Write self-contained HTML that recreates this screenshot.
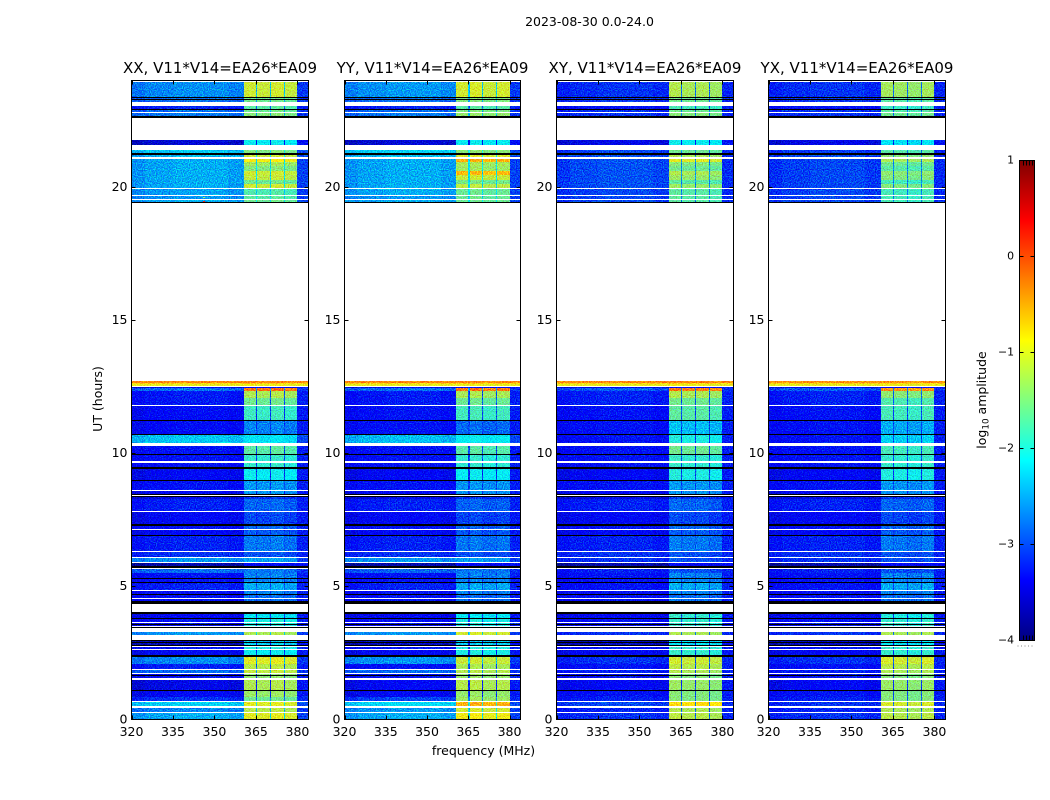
<!DOCTYPE html>
<html>
<head>
<meta charset="utf-8">
<title>2023-08-30 0.0-24.0</title>
<style>
html,body{margin:0;padding:0;background:#fff;}
svg{display:block;}
text{font-family:"DejaVu Sans","Liberation Sans",sans-serif;fill:#000;}
</style>
</head>
<body>
<svg id="chart" xmlns="http://www.w3.org/2000/svg" width="1050" height="800" viewBox="0 0 1050 800">
  <defs>
    <filter id="speckle" x="0" y="0" width="1" height="1" color-interpolation-filters="sRGB">
      <feTurbulence type="fractalNoise" baseFrequency="0.85" numOctaves="1" seed="4" result="n"/>
      <feColorMatrix in="n" type="matrix" values="0.4 0 0 0 0.3  0 3 0 0 -1.1  0 0 2 0 -0.5  0 0 0 0 1" result="m"/>
      <feComposite in="SourceGraphic" in2="m" operator="arithmetic" k1="0" k2="1" k3="0.5" k4="-0.25" result="c"/>
      <feComposite in="c" in2="SourceAlpha" operator="in"/>
    </filter>
    <linearGradient id="jet-gradient" x1="0" y1="1" x2="0" y2="0"></linearGradient>
  </defs>
  <text x="589.5" y="26" text-anchor="middle" font-size="12.5">2023-08-30 0.0-24.0</text>
  <text x="483.5" y="755" text-anchor="middle" font-size="12.5">frequency (MHz)</text>
  <text transform="translate(102,399) rotate(-90)" text-anchor="middle" font-size="12.5">UT (hours)</text>
  <text transform="translate(986,400) rotate(-90)" text-anchor="middle" font-size="12.5">log<tspan font-size="8.8" dy="2.5">10</tspan><tspan dy="-2.5"> amplitude</tspan></text>
</svg>
<script>
// Axis data
var panelTitles = ['XX, V11*V14=EA26*EA09', 'YY, V11*V14=EA26*EA09', 'XY, V11*V14=EA26*EA09', 'YX, V11*V14=EA26*EA09'];
var xTickLabels = [320, 335, 350, 365, 380];
var yTickLabels = [0, 5, 10, 15, 20];
var colorbarTicks = [-4, -3, -2, -1, 0, 1];

// Frequency channels (MHz) and the time rows (UT hours at the start of each row)
var channelEdges = [320, 325, 335, 345, 355, 360.5, 365, 365.5, 370, 370.5, 375, 375.5, 380, 384];
var lowChannelTrim = [-0.21, -0.12, -0.07, -0.07, -0.15];
var rowStartHours = [0, 0.26, 0.47, 0.66, 0.85, 1.09, 1.52, 1.74, 1.89, 2.10, 2.39, 2.62, 2.74, 3.17, 3.50, 3.83,
  4.44, 4.58, 4.71, 4.88, 5.18, 5.31, 5.50, 5.70, 5.93, 6.11, 6.34, 6.92, 7.16, 7.35, 7.84, 8.30, 8.46, 8.63,
  9.00, 9.47, 9.69, 9.99, 10.39, 10.74, 11.25, 11.81, 12.07, 12.34, 12.45, 12.53, 12.60, 12.65,
  19.39, 19.54, 19.69, 19.95, 20.13, 20.25, 20.44, 20.60, 20.78, 20.93, 21.11, 21.26, 21.56, 22.59, 22.83, 22.93, 23.21, 23.38];

// log10 amplitude per row: out-of-band level and in-band level for each polarisation
var xxLow = [-2.4,-2.6,-2.2,-3.0,-3.3,-3.4,-3.2,-2.7,-3.1,-2.55,-3.3,-3.2,-3.6,-2.5,-3.2,-3.3,
  -3.2,-3.2,-3.2,-3.1,-3.2,-3.2,-2.7,-3.7,-2.5,-3.0,-3.1,-3.3,-3.2,-3.3,-3.1,-3.4,-3.3,-3.2,
  -3.3,-3.2,-3.2,-3.2,-2.25,-3.25,-3.25,-3.15,-3.15,-2.7,-3.4,-1.0,-0.75,-0.35,
  -2.4,-2.5,-2.45,-2.4,-2.4,-2.4,-2.4,-2.4,-2.4,-2.4,-2.35,-2.25,-3.5,-2.65,-2.7,-3.1,-2.7,-2.55];
var xxBand = [-1.05,-1.25,-1.05,-1.6,-1.4,-1.3,-1.45,-1.2,-1.25,-1.05,-2.1,-2.0,-2.3,-1.3,-2.0,-2.2,
  -2.8,-2.8,-2.7,-2.5,-2.7,-2.7,-2.75,-3.4,-2.55,-2.95,-2.75,-2.9,-2.85,-3.0,-2.85,-3.1,-2.6,-2.6,
  -2.1,-1.9,-1.9,-1.7,-2.2,-2.7,-1.85,-1.6,-1.3,-0.25,-3.4,-1.0,-0.75,-0.35,
  -1.6,-1.7,-1.75,-1.15,-1.6,-1.2,-1.15,-1.5,-1.35,-0.95,-1.15,-1.5,-2.1,-1.5,-1.6,-1.7,-1.6,-1.15];
var yyLow = [-2.4,-2.5,-2.15,-2.9,-3.3,-3.3,-3.2,-2.7,-3.2,-2.5,-3.3,-3.2,-3.6,-2.5,-3.2,-3.3,
  -3.2,-3.2,-3.2,-3.1,-3.2,-3.2,-2.75,-3.7,-2.5,-3.0,-3.1,-3.3,-3.2,-3.3,-3.1,-3.4,-3.3,-3.2,
  -3.3,-3.2,-3.2,-3.2,-2.3,-3.2,-3.2,-3.15,-3.15,-2.7,-3.4,-1.0,-0.75,-0.35,
  -2.4,-2.5,-2.4,-2.4,-2.4,-2.4,-2.4,-2.4,-2.4,-2.4,-2.3,-2.2,-3.5,-2.65,-2.7,-3.1,-2.7,-2.5];
var yyBand = [-0.95,-1.1,-0.55,-1.35,-1.4,-1.25,-1.4,-1.25,-1.3,-1.15,-2.0,-2.0,-2.3,-1.1,-2.0,-2.15,
  -2.8,-2.8,-2.7,-2.5,-2.7,-2.7,-2.75,-3.4,-2.55,-2.95,-2.75,-2.9,-2.85,-3.0,-2.85,-3.1,-2.6,-2.6,
  -2.1,-1.9,-1.9,-1.7,-2.1,-2.8,-1.8,-1.6,-1.3,-0.25,-3.4,-1.0,-0.75,-0.35,
  -1.6,-1.6,-1.6,-1.2,-1.55,-1.15,-0.6,-1.35,-1.3,-0.55,-1.05,-1.45,-2.1,-1.4,-1.5,-1.7,-1.5,-1.1];
var xyLow = [-3.0,-3.1,-2.9,-3.1,-3.2,-3.3,-3.2,-3.1,-3.2,-3.0,-3.3,-3.2,-3.6,-3.0,-3.2,-3.3,
  -3.2,-3.2,-3.2,-3.2,-3.2,-3.2,-3.1,-3.7,-3.0,-3.0,-3.1,-3.3,-3.2,-3.3,-3.1,-3.4,-3.3,-3.2,
  -3.3,-3.2,-3.2,-3.2,-3.2,-3.2,-3.2,-3.1,-3.1,-2.8,-3.4,-1.0,-0.75,-0.35,
  -2.9,-2.9,-2.9,-2.85,-2.85,-2.85,-2.85,-2.85,-2.85,-2.85,-2.85,-2.9,-3.4,-3.0,-3.0,-3.2,-3.0,-3.0];
var xyBand = [-1.25,-1.3,-0.8,-1.5,-1.5,-1.4,-1.5,-1.3,-1.25,-1.15,-1.9,-1.9,-2.2,-1.3,-1.9,-1.9,
  -2.8,-2.8,-2.7,-2.5,-2.7,-2.7,-2.95,-3.4,-2.95,-2.95,-2.75,-2.9,-2.85,-3.0,-2.85,-3.1,-2.6,-2.6,
  -2.0,-1.9,-1.9,-1.6,-2.0,-2.4,-1.7,-1.6,-1.3,-0.3,-3.4,-1.0,-0.75,-0.35,
  -1.7,-1.7,-1.7,-1.4,-1.7,-1.4,-1.3,-1.6,-1.5,-1.05,-1.3,-1.6,-2.1,-1.5,-1.6,-1.8,-1.6,-1.3];
var yxLow = [-3.0,-3.1,-3.0,-3.1,-3.2,-3.3,-3.2,-3.1,-3.2,-3.0,-3.3,-3.2,-3.6,-3.0,-3.2,-3.3,
  -3.2,-3.2,-3.2,-3.2,-3.2,-3.2,-3.1,-3.7,-3.0,-3.0,-3.1,-3.3,-3.2,-3.3,-3.1,-3.4,-3.3,-3.2,
  -3.3,-3.2,-3.2,-3.2,-3.2,-3.2,-3.2,-3.1,-3.1,-2.8,-3.4,-1.0,-0.75,-0.4,
  -2.9,-2.9,-2.9,-2.9,-2.9,-2.9,-2.9,-2.9,-2.9,-2.9,-2.9,-2.95,-3.4,-3.0,-3.0,-3.2,-3.0,-3.0];
var yxBand = [-1.25,-1.3,-1.1,-1.5,-1.5,-1.4,-1.5,-1.3,-1.25,-1.1,-1.9,-1.9,-2.2,-1.3,-1.9,-2.0,
  -2.8,-2.8,-2.7,-2.5,-2.7,-2.7,-2.95,-3.4,-2.95,-2.95,-2.75,-2.9,-2.85,-3.0,-2.85,-3.1,-2.6,-2.6,
  -2.0,-1.9,-1.9,-1.8,-2.3,-2.5,-1.8,-1.75,-1.45,-0.4,-3.4,-1.0,-0.75,-0.4,
  -1.8,-1.8,-1.8,-1.5,-1.8,-1.5,-1.45,-1.7,-1.6,-1.3,-1.45,-1.7,-2.2,-1.6,-1.7,-1.85,-1.7,-1.35];

// Per-sub-band level trim for each polarisation
var xxBandTrim = [0.03, 0, 0.05, -0.03];
var yyBandTrim = [0, 0.03, -0.05, 0];
var xyBandTrim = [0.05, 0, 0.02, -0.05];
var yxBandTrim = [0.03, 0, -0.05, 0.03];

// Flagged time ranges (UT hours): no data (white) and zero amplitude (black)
var whiteGaps = [[23.93,24],[23.06,23.21],[22.79,22.83],[21.75,22.59],[21.38,21.56],[21.07,21.11],[19.91,19.95],[19.65,19.69],[19.50,19.54],[12.71,19.39],[12.49,12.53],[11.77,11.81],[10.26,10.39],[9.64,9.71],[8.59,8.63],[8.38,8.42],[7.80,7.84],[7.12,7.16],[6.30,6.34],[6.07,6.11],[5.89,5.93],[5.66,5.70],[4.84,4.88],[4.54,4.58],[4.03,4.35],[3.62,3.68],[3.49,3.53],[3.30,3.45],[3.00,3.17],[2.72,2.76],[2.60,2.64],[1.87,1.91],[1.72,1.76],[1.50,1.54],[0.64,0.68],[0.45,0.49],[0.24,0.28]];
var blackGaps = [[23.34,23.38],[23.25,23.29],[22.89,22.93],[22.59,22.65],[21.22,21.26],[19.39,19.43],[11.21,11.25],[10.70,10.74],[9.94,9.99],[9.42,9.47],[8.95,9.0],[8.42,8.46],[8.34,8.38],[7.28,7.35],[6.88,6.92],[5.70,5.77],[5.27,5.31],[5.14,5.18],[4.67,4.71],[4.35,4.44],[3.98,4.03],[3.79,3.83],[3.54,3.58],[3.45,3.49],[2.96,3.0],[2.87,2.91],[2.78,2.81],[2.36,2.42],[1.63,1.67],[1.07,1.11]];

// Isolated bright samples: panel index, frequency (MHz), hour, log10 amplitude
var spikePanel = [0, 0, 3];
var spikeFreq = [346, 346, 347];
var spikeHour = [19.47, 19.62, 19.45];
var spikeLevel = [0.2, -1.4, -1.2];

var panelLows = [xxLow, yyLow, xyLow, yxLow];
var panelBands = [xxBand, yyBand, xyBand, yxBand];
var panelTrims = [xxBandTrim, yyBandTrim, xyBandTrim, yxBandTrim];

var NS = 'http://www.w3.org/2000/svg';
var svg = document.getElementById('chart');
var panelLeft = [131.5, 344.5, 556.5, 768.5];
var panelWidth = [177, 176, 177, 177];
var plotTop = 80.5, plotBottom = 719.5;
var freqMin = 320, freqMax = 384, hourMax = 24;
var cbLeft = 1019.5, cbRight = 1034.5, cbTop = 160.5, cbBottom = 640.5;

function make(tag, attrs, parent) {
  var e = document.createElementNS(NS, tag);
  for (var k in attrs) e.setAttribute(k, attrs[k]);
  (parent || svg).appendChild(e);
  return e;
}
function clip01(v) { return Math.max(0, Math.min(1, v)); }
function jet(level) {
  var t = clip01((level + 4) / 5);
  var r = clip01(1.5 - Math.abs(4 * t - 3));
  var g = clip01(1.5 - Math.abs(4 * t - 2));
  var b = clip01(1.5 - Math.abs(4 * t - 1));
  return 'rgb(' + Math.round(r * 255) + ',' + Math.round(g * 255) + ',' + Math.round(b * 255) + ')';
}
function yScale(h) { return plotBottom - (h / hourMax) * (plotBottom - plotTop); }
function xScaleFor(p) {
  return function (f) { return panelLeft[p] + (f - freqMin) / (freqMax - freqMin) * panelWidth[p]; };
}
function channelLevel(c, low, band, trim) {
  if (c < 5) return low > -1.8 ? low : low + lowChannelTrim[c];
  if (c === 12) return low > -1.8 ? low : -3.2 + 0.25 * (low + 3.15);
  if (c % 2 === 1) return band + trim[(c - 5) / 2];
  return Math.min(low + 0.2, band);
}

panelTitles.forEach(function (title, p) {
  var x = xScaleFor(p);
  var left = panelLeft[p], right = left + panelWidth[p];
  var g = make('g', {});
  
  

  var cells = make('g', { filter: 'url(#speckle)', 'shape-rendering': 'crispEdges' }, g);
  
  
  rowStartHours.forEach(function (start, r) {
    var end = r + 1 < rowStartHours.length ? rowStartHours[r + 1] : hourMax;
    for (var c = 0; c < channelEdges.length - 1; c++) {
      var level = channelLevel(c, panelLows[p][r], panelBands[p][r], panelTrims[p]);
      var x0 = Math.round(x(channelEdges[c]));
      var x1 = Math.round(x(channelEdges[c + 1]));
      var y0 = Math.round(yScale(end));
      var y1 = Math.round(yScale(start));
      var cell = make('rect', { x: x0, y: y0, width: Math.max(x1 - x0, 1), height: Math.max(y1 - y0, 1), fill: jet(level) }, cells);
      
      
    }
  });

  spikeFreq.forEach(function (f, i) {
    if (spikePanel[i] !== p) return;
    var sp = make('rect', { x: Math.round(x(f)), y: Math.round(yScale(spikeHour[i])), width: 2, height: 1, fill: jet(spikeLevel[i]) }, g);
    
    
  });

  var gaps = make('g', { 'shape-rendering': 'crispEdges' }, g);
  
  
  function drawGaps(list, color, name) {
    list.forEach(function (gap) {
      var y0 = Math.round(yScale(gap[1]));
      var y1 = Math.round(yScale(gap[0]));
      var rect = make('rect', { x: left, y: y0, width: panelWidth[p], height: Math.max(y1 - y0, 1), fill: color }, gaps);
      
      
    });
  }
  drawGaps(whiteGaps, '#ffffff', 'no-data-row');
  drawGaps(blackGaps, '#000000', 'zero-amplitude-row');

  var frame = make('rect', { x: left, y: plotTop, width: panelWidth[p], height: plotBottom - plotTop, fill: 'none', stroke: '#000', 'stroke-width': 1 }, g);
  
  

  xTickLabels.forEach(function (v) {
    var tx = Math.round(x(v)) + 0.5;
    var t1 = make('line', { x1: tx, x2: tx, y1: plotBottom, y2: plotBottom - 4, stroke: '#000' }, g);
    
    
    var t2 = make('line', { x1: tx, x2: tx, y1: plotTop, y2: plotTop + 4, stroke: '#000' }, g);
    
    
    var lab = make('text', { x: x(v), y: 736, 'text-anchor': 'middle', 'font-size': 12.5 }, g);
    
    
    lab.textContent = v;
  });

  yTickLabels.forEach(function (v) {
    var ty = Math.round(yScale(v)) + (v === 0 ? -0.5 : 0.5);
    var t1 = make('line', { x1: left, x2: left + 4, y1: ty, y2: ty, stroke: '#000' }, g);
    
    
    var t2 = make('line', { x1: right, x2: right - 4, y1: ty, y2: ty, stroke: '#000' }, g);
    
    
    var lab = make('text', { x: left - 4, y: yScale(v) + 3.8, 'text-anchor': 'end', 'font-size': 12.5 }, g);
    
    
    lab.textContent = v;
  });

  var tt = make('text', { x: left + panelWidth[p] / 2, y: 73, 'text-anchor': 'middle', 'font-size': 15 }, g);
  
  
  tt.textContent = title;
});

// Colorbar
var grad = document.getElementById('jet-gradient');
for (var s = 0; s <= 40; s++) {
  var stop = make('stop', { offset: s / 40, 'stop-color': jet(-4 + 5 * s / 40) }, grad);
  
  
}
var cbar = make('g', {});


var cbRect = make('rect', { x: cbLeft, y: cbTop, width: cbRight - cbLeft, height: cbBottom - cbTop, fill: 'url(#jet-gradient)', stroke: '#000' }, cbar);


function cbY(v) { return cbBottom - (v + 4) / 5 * (cbBottom - cbTop); }
colorbarTicks.forEach(function (v) {
  var y = cbY(v);
  var a = make('line', { x1: cbLeft, x2: cbLeft + 4, y1: y, y2: y, stroke: '#000' }, cbar);
  
  
  var b = make('line', { x1: cbRight, x2: cbRight - 4, y1: y, y2: y, stroke: '#000' }, cbar);
  
  
  var lab = make('text', { x: 1014, y: y + 3, 'text-anchor': 'end', 'font-size': 10.9 }, cbar);
  
  
  lab.textContent = v < 0 ? '\u2212' + Math.abs(v) : String(v);
});
for (var i = 1; i <= 4; i++) {
  var mx = Math.round(cbLeft + i * 3) + 0.5;
  var m1 = make('line', { x1: mx, x2: mx, y1: cbTop, y2: cbTop + 5, stroke: '#000' }, cbar);
  
  
  var m2 = make('line', { x1: mx, x2: mx, y1: cbBottom, y2: cbBottom - 5, stroke: '#000' }, cbar);
  
  
}
var dots = make('line', { x1: 1017.5, x2: 1035, y1: 646, y2: 646, stroke: '#888', 'stroke-dasharray': '1 2.5' }, cbar);


</script>
</body>
</html>
